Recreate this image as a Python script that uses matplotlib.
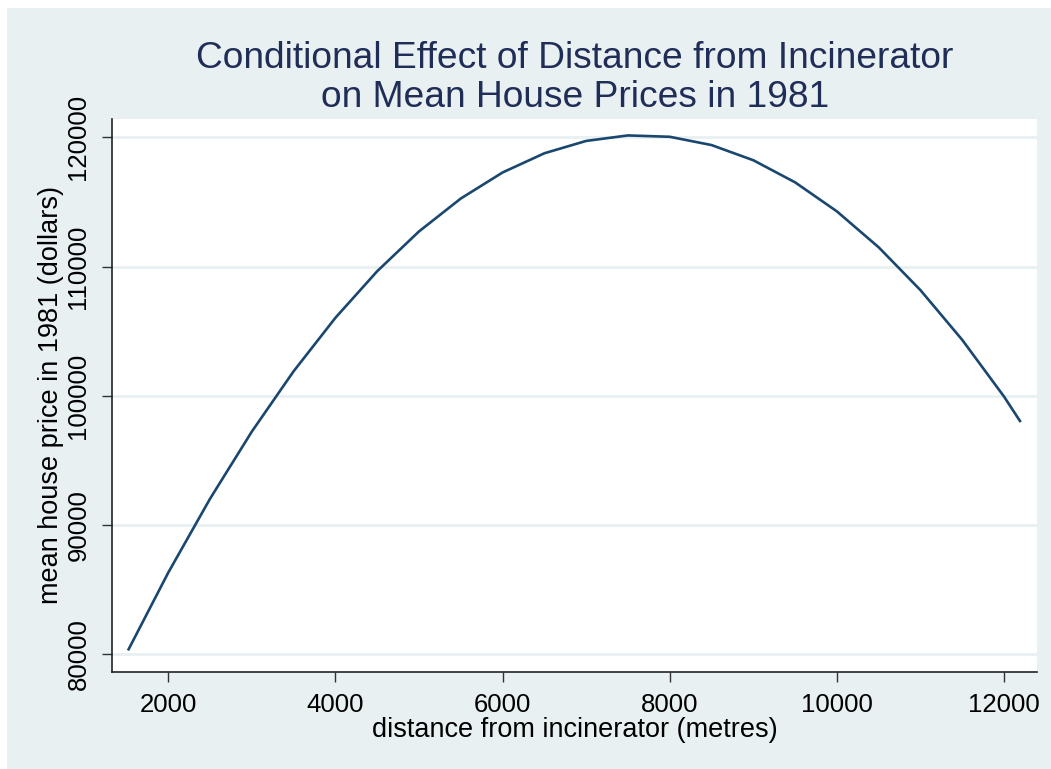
import matplotlib
matplotlib.use('Agg')
import matplotlib.pyplot as plt
from matplotlib.patches import Rectangle

plt.rcParams['font.family'] = ['Liberation Sans', 'DejaVu Sans']

# values, every 500 m
distance = [1525, 2000, 2500, 3000, 3500, 4000, 4500, 5000, 5500, 6000, 6500, 7000, 7500,
            8000, 8500, 9000, 9500, 10000, 10500, 11000, 11500, 12000, 12191]
price = [80390, 86330, 92045, 97240, 101905, 106040, 109645, 112720, 115265, 117280, 118765,
         119720, 120145, 120040, 119400, 118225, 116515, 114270, 111490, 108175, 104325, 99940, 98050]

xticks = [2000, 4000, 6000, 8000, 10000, 12000]
yticks = [80000, 90000, 100000, 110000, 120000]

title = 'Conditional Effect of Distance from Incinerator\non Mean House Prices in 1981'
xtitle = 'distance from incinerator (metres)'
ytitle = 'mean house price in 1981 (dollars)'

bg = '#e8f0f2'
navy = '#1a476f'

fig = plt.figure(figsize=(10.51, 7.69), dpi=100, facecolor='white')
# stata style graph region (small white border at top and left)
fig.patches.append(Rectangle((7 / 1051, 0), 1, (769 - 8) / 769, transform=fig.transFigure,
                             facecolor=bg, edgecolor='none', zorder=-10))

ax = fig.add_axes([112 / 1051, 1 - 671.7 / 769, 924.7 / 1051, 552.4 / 769])
ax.set_facecolor('white')
ax.plot(distance, price, color=navy, linewidth=1.9, zorder=3)

ax.set_xlim(1326, 12391)
ax.set_ylim(78654, 121393)
ax.set_xticks(xticks)
ax.set_yticks(yticks)
ax.set_yticklabels([str(v) for v in yticks], rotation=90, va='center')
ax.grid(axis='y', color=bg, linewidth=2)
ax.set_axisbelow(True)

for s in ['top', 'right']:
    ax.spines[s].set_visible(False)
for s in ['left', 'bottom']:
    ax.spines[s].set_color('#222222')
    ax.spines[s].set_linewidth(1.2)
ax.tick_params(length=7.5, width=1, color='#333333', labelsize=18.5, pad=8)

ax.set_xlabel(xtitle, fontsize=19.5, labelpad=0)
ax.set_ylabel(ytitle, fontsize=19.5, labelpad=2)

fig.text(575 / 1051, 1 - 78 / 769, title, ha='center', va='center', fontsize=26.7,
         color='#1f2d57', linespacing=1.12)

fig.savefig('out.png', dpi=100, facecolor=fig.get_facecolor())
